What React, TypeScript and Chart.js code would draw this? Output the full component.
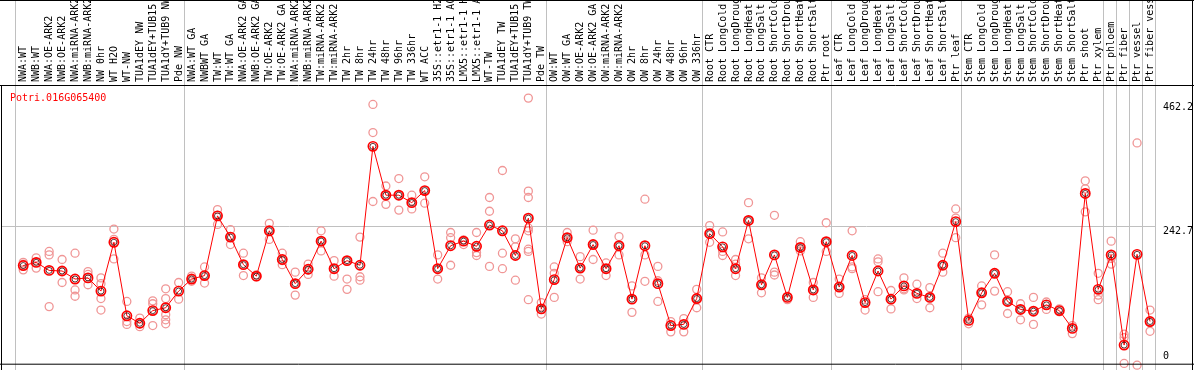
import { useEffect, useRef } from "react";
import { Chart, registerables } from "chart.js";

Chart.register(...registerables);

const GENE = "Potri.016G065400";

const CATEGORIES = [
  "NWA:WT", "NWB:WT", "NWA:OE-ARK2", "NWB:OE-ARK2", "NWA:miRNA-ARK2", "NWB:miRNA-ARK2",
  "NW 0hr", "WT H2O", "WT-NW", "TUA1dEY NW", "TUA1dEY+TUB15 NW", "TUA1dY+TUB9 NW", "Pde NW",
  "NWA:WT GA", "NWBWT GA", "TW:WT", "TW:WT GA", "NWA:OE-ARK2 GA", "NWB:OE-ARK2 GA",
  "TW:OE-ARK2", "TW:OE-ARK2 GA", "NWA:miRNA-ARK2", "NWB:miRNA-ARK2", "TW:miRNA-ARK2",
  "TW:miRNA-ARK2", "TW 2hr", "TW 8hr", "TW 24hr", "TW 48hr", "TW 96hr", "TW 336hr",
  "WT ACC", "35S::etr1-1 H2O", "35S::etr1-1 ACC", "LMX5::etr1-1 H2O", "LMX5::etr1-1 ACC",
  "WT-TW", "TUA1dEY TW", "TUA1dEY+TUB15 TW", "TUA1dY+TUB9 TW", "Pde TW",
  "OW:WT", "OW:WT GA", "OW:OE-ARK2", "OW:OE-ARK2 GA", "OW:miRNA-ARK2", "OW:miRNA-ARK2",
  "OW 2hr", "OW 8hr", "OW 24hr", "OW 48hr", "OW 96hr", "OW 336hr",
  "Root CTR", "Root LongCold", "Root LongDrought", "Root LongHeat", "Root LongSalt",
  "Root ShortCold", "Root ShortDrought", "Root ShortHeat", "Root ShortSalt", "Ptr root",
  "Leaf CTR", "Leaf LongCold", "Leaf LongDrought", "Leaf LongHeat", "Leaf LongSalt",
  "Leaf ShortCold", "Leaf ShortDrought", "Leaf ShortHeat", "Leaf ShortSalt", "Ptr leaf",
  "Stem CTR", "Stem LongCold", "Stem LongDrought", "Stem LongHeat", "Stem LongSalt",
  "Stem ShortCold", "Stem ShortDrought", "Stem ShortHeat", "Stem ShortSalt", "Ptr shoot",
  "Ptr xylem", "Ptr phloem", "Ptr fiber", "Ptr vessel", "Ptr fiber vessel",
];

const MEANS = [
  173.5, 179, 165, 164, 150, 152, 129, 214, 86, 73, 95, 100, 129,
  150, 156, 260, 223, 175, 155, 234, 184, 142, 167, 216, 168, 182, 174, 381, 296, 296,
  283, 304, 168, 208, 216, 207, 244, 234, 191, 256, 98,
  149, 222, 169, 210, 168, 208, 115, 208, 142, 69, 71, 116,
  229, 206, 168, 252, 140, 192, 118, 205, 131, 215,
  136, 191, 109, 164, 115, 138, 125, 118, 174, 250,
  78, 126, 160, 111, 97, 94, 105, 95, 64, 299, 132,
  192, 35, 193, 76,
];

const REPLICATES = [
  [179, 176, 166], [187, 179, 169], [198, 192, 102], [184, 164, 144], [195, 131, 120],
  [163, 158, 140], [152, 142, 116, 96], [237, 219, 185], [111, 76, 71], [82, 72, 67],
  [112, 107, 69], [133, 116, 102, 88, 79, 72], [144, 115],
  [155, 146, 150], [171, 156, 143], [271, 261, 245], [236, 224, 210], [195, 175, 156],
  [157, 154], [247, 234, 219], [195, 182, 175], [162, 142, 122], [176, 166, 158],
  [234, 216, 199], [182, 168, 155], [182, 150, 132], [223, 154, 148], [454, 405, 285],
  [312, 296, 280], [325, 296, 270], [296, 283, 272], [328, 304, 282], [192, 168, 150],
  [231, 222, 174], [216, 210, 218], [231, 196, 191], [292, 268, 172], [339, 195, 168],
  [220, 206, 148], [465, 303, 292, 239, 234, 202, 198, 114], [109, 98, 89],
  [171, 160, 118], [231, 222, 215], [189, 169, 150], [235, 210, 184], [178, 168, 156],
  [224, 208, 192], [138, 115, 92], [289, 192, 146], [172, 147, 111], [76, 58], [81, 58],
  [132, 116, 100],
  [243, 229, 214], [232, 198, 191], [184, 176, 156], [283, 252, 220], [152, 140, 126],
  [261, 162, 157], [120, 114], [215, 205, 199], [144, 131, 118], [248, 215, 198],
  [150, 136, 125], [234, 171, 168], [114, 96], [185, 180, 128], [130, 115, 98],
  [152, 133, 131], [141, 125, 116], [135, 118, 100], [195, 174, 162], [272, 256, 222],
  [82, 72], [138, 126, 105], [192, 160, 129], [128, 111, 90], [107, 97, 79],
  [118, 94, 71], [110, 97], [98, 93], [69, 55], [321, 307, 267], [160, 122, 114],
  [216, 186, 176], [54, 48, 3], [387, 0], [96, 75, 59],
];

const Y_TICKS = [462.2, 242.7, 0];
const Y_GRID = [242.7];
const GROUP_BOUNDS = [0, 13, 41, 53, 63, 73, 84, 85, 86, 87, 88];

const FONT = '10px "DejaVu Sans Mono", "Liberation Mono", monospace';

const decorPlugin = {
  id: "decor",
  beforeDatasetsDraw(chart: any) {
    const { ctx, scales, chartArea, height } = chart;
    const xs = scales.x;
    const ys = scales.y;
    ctx.save();
    ctx.strokeStyle = "#c0c0c0";
    ctx.lineWidth = 1;
    ctx.beginPath();
    GROUP_BOUNDS.forEach((b) => {
      const px = Math.round(xs.getPixelForValue(b - 8 / 13)) + 0.5;
      ctx.moveTo(px, 0);
      ctx.lineTo(px, height);
    });
    Y_GRID.forEach((v) => {
      const py = Math.round(ys.getPixelForValue(v)) + 0.5;
      ctx.moveTo(1, py);
      ctx.lineTo(chartArea.right, py);
    });
    ctx.stroke();
    ctx.restore();
  },
  afterDatasetsDraw(chart: any) {
    const { ctx, scales, chartArea, width, height } = chart;
    const xs = scales.x;
    const ys = scales.y;
    ctx.save();
    ctx.strokeStyle = "#000";
    ctx.lineWidth = 1;
    ctx.beginPath();
    ctx.moveTo(0, 0.5);
    ctx.lineTo(width, 0.5);
    ctx.moveTo(0, chartArea.top - 0.5);
    ctx.lineTo(width, chartArea.top - 0.5);
    ctx.moveTo(1.5, chartArea.top - 1);
    ctx.lineTo(1.5, height);
    ctx.moveTo(width - 1.5, 0);
    ctx.lineTo(width - 1.5, height);
    ctx.moveTo(0, chartArea.bottom + 0.5);
    ctx.lineTo(width, chartArea.bottom + 0.5);
    ctx.stroke();

    ctx.font = FONT;
    ctx.fillStyle = "#000";
    ctx.textAlign = "left";
    ctx.textBaseline = "alphabetic";
    CATEGORIES.forEach((label, i) => {
      const px = xs.getPixelForValue(i);
      ctx.save();
      ctx.translate(Math.round(px) + 3, chartArea.top - 4);
      ctx.rotate(-Math.PI / 2);
      ctx.fillText(label, 0, 0);
      ctx.restore();
    });

    ctx.fillStyle = "#ff0000";
    ctx.fillText(GENE, 10, chartArea.top + 15);

    ctx.fillStyle = "#000";
    const maxTick = Math.max(...Y_TICKS);
    Y_TICKS.forEach((v) => {
      const py = ys.getPixelForValue(v);
      if (v === 0) {
        ctx.textBaseline = "bottom";
        ctx.fillText(String(v), chartArea.right + 8, Math.min(py, chartArea.bottom) - 2);
      } else {
        ctx.textBaseline = "top";
        ctx.fillText(v.toFixed(1), chartArea.right + 8, py + (v === maxTick ? 3 : 1));
      }
    });
    ctx.restore();
  },
};

export default function App() {
  const canvasRef = useRef<HTMLCanvasElement | null>(null);

  useEffect(() => {
    const canvas = canvasRef.current;
    if (!canvas) return;
    const replicatePoints = REPLICATES.flatMap((reps, i) => reps.map((r) => ({ x: i, y: r })));
    const meanPoints = MEANS.map((m, i) => ({ x: i, y: m }));

    const chart = new Chart(canvas, {
      type: "scatter",
      data: {
        datasets: [
          {
            label: "mean-core",
            data: meanPoints,
            showLine: false,
            pointRadius: 3,
            pointHoverRadius: 3,
            pointBorderColor: "rgba(40,0,0,0.85)",
            pointBackgroundColor: "rgba(0,0,0,0)",
            pointBorderWidth: 0.9,
            order: 1,
            clip: false,
          } as any,
          {
            label: "mean",
            data: meanPoints,
            showLine: true,
            borderColor: "#ff0000",
            borderWidth: 1,
            pointRadius: 4.6,
            pointHoverRadius: 4.6,
            pointBorderColor: "#ff0000",
            pointBackgroundColor: "rgba(0,0,0,0)",
            pointBorderWidth: 1.7,
            order: 2,
            clip: false,
          } as any,
          {
            label: "replicates",
            data: replicatePoints,
            showLine: false,
            pointRadius: 4,
            pointHoverRadius: 4,
            pointBorderColor: "rgb(240,150,150)",
            pointBackgroundColor: "rgba(0,0,0,0)",
            pointBorderWidth: 1.3,
            order: 3,
            clip: false,
          } as any,
        ],
      },
      options: {
        animation: false,
        responsive: false,
        devicePixelRatio: 1,
        layout: { padding: { left: 2, right: 39, top: 86, bottom: 2 } },
        plugins: { legend: { display: false }, tooltip: { enabled: false }, title: { display: false } },
        events: [],
        scales: {
          x: { type: "linear", display: false, min: -17 / 13, max: 1136 / 13 },
          y: { type: "linear", display: false, min: 1.5 / 0.5832, max: 283.5 / 0.5832 },
        },
      },
      plugins: [decorPlugin],
    });
    return () => chart.destroy();
  }, []);

  return (
    <div style={{ position: "fixed", left: 0, top: 0, width: 1194, height: 370, background: "#fff" }}>
      <canvas ref={canvasRef} width={1194} height={370} style={{ display: "block" }} />
    </div>
  );
}
